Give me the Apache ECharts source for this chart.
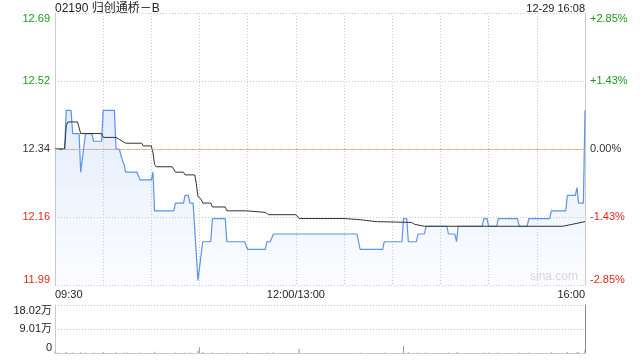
<!DOCTYPE html>
<html>
<head>
<meta charset="utf-8">
<script src="https://cdn.jsdelivr.net/npm/echarts@6/dist/echarts.min.js"></script>
<style>
html,body{margin:0;padding:0;background:#fff;}
#chart{width:640px;height:360px;}
</style>
</head>
<body>
<div id="chart"></div>
<script>
// ---- data ----
var stockTitle = '02190 归创通桥－B';
var stampText = '12-29 16:08';
var prevClose = 12.34;
// minute index from 09:30 (0) to 16:00 (330), lunch break removed
var priceMinutes = [0,6,7,10,11,15,16,17,19,23,24,29,30,37,38,40,42,43,44,51,53,60,61,62,74,75,80,81,83,84,86,89,90,92,97,98,106,107,118,120,131,132,134,136,188,190,204,205,216,217,219,220,225,226,230,231,244,245,249,250,251,266,267,269,270,275,276,288,289,294,295,308,309,318,319,324,325,326,329,330];
var priceValues  = [12.34,12.34,12.44,12.44,12.38,12.38,12.28,12.28,12.38,12.38,12.36,12.36,12.44,12.44,12.34,12.34,12.31,12.30,12.28,12.28,12.26,12.26,12.28,12.18,12.18,12.20,12.20,12.22,12.22,12.20,12.20,12.00,12.00,12.10,12.10,12.16,12.16,12.10,12.10,12.08,12.08,12.10,12.10,12.12,12.12,12.08,12.08,12.10,12.10,12.16,12.16,12.10,12.10,12.12,12.12,12.14,12.14,12.12,12.12,12.10,12.14,12.14,12.16,12.16,12.14,12.14,12.16,12.16,12.14,12.14,12.16,12.16,12.18,12.18,12.22,12.22,12.24,12.20,12.20,12.44];
var avgMinutes = [0,6,7,8,14,16,29,30,38,40,44,54,55,60,61,62,63,73,75,80,81,87,88,89,91,92,97,98,106,107,119,120,131,133,150,152,180,181,190,191,200,201,222,224,230,316,322,330];
var avgValues  = [12.34,12.34,12.40,12.41,12.41,12.38,12.38,12.37,12.37,12.365,12.355,12.355,12.348,12.348,12.33,12.30,12.294,12.294,12.28,12.28,12.273,12.273,12.25,12.217,12.21,12.20,12.20,12.19,12.19,12.18,12.18,12.176,12.176,12.17,12.17,12.16,12.16,12.157,12.157,12.152,12.152,12.15,12.15,12.145,12.14,12.14,12.145,12.152];
var volMinutes = [0,2,7,11,16,19,24,30,38,43,45,53,62,75,81,84,89,90,92,98,107,120,132,136,152,190,205,217,220,226,231,245,250,251,267,270,276,289,295,309,319,325,326,330];
var volValues  = [6000,1500,4000,2000,3000,2000,1500,3500,2500,2000,1500,2000,5000,2000,1500,1500,9000,22000,4000,3000,2000,2500,1500,3000,16000,2000,1500,26000,2500,1500,2000,1500,2000,2500,1500,1500,2000,1500,1500,3000,3500,3000,2500,12000];
var priceTickLabels = ['11.99','12.16','12.34','12.52','12.69'];
var pctTickLabels = ['-2.85%','-1.43%','0.00%','+1.43%','+2.85%'];
var volTickLabels = ['0','9.01万','18.02万'];
var timeTickMinutes = [0,150,330];
var timeTickLabels = ['09:30','12:00/13:00','16:00'];

var FONT = 'Arial, "Liberation Sans", "Noto Sans CJK SC", sans-serif';
var GREEN = '#1a9c1a', RED = '#e8251b', TXT = '#333';
function tickColor(i){ return i > 2 ? GREEN : (i === 2 ? TXT : RED); }

function pairs(a, b){ var r=[]; for (var i=0;i<a.length;i++) r.push([a[i], b[i]]); return r; }

var chart = echarts.init(document.getElementById('chart'), null, {renderer:'canvas'});
var option = {
  animation: false,
  textStyle: {fontFamily: FONT},
  title: [
    {text: stockTitle, left: 55, top: 3, padding: 0, textStyle: {fontSize: 12, fontWeight: 'normal', color: '#222', fontFamily: FONT}},
    {text: stampText, right: 55, top: 3, padding: 0, textStyle: {fontSize: 11, fontWeight: 'normal', color: '#222', fontFamily: FONT}}
  ],
  grid: [
    {left: 55, right: 55, top: 13, height: 272},
    {left: 55, right: 55, top: 305, height: 48}
  ],
  xAxis: [
    {type: 'value', gridIndex: 0, min: 0, max: 330, interval: 30,
     axisLine: {show: true, lineStyle: {color: '#ccc'}}, axisTick: {show: false},
     splitLine: {show: true, lineStyle: {color: '#ccc', type: [1,2]}},
     axisLabel: {color: '#222', fontSize: 11, margin: 4, alignMinLabel: 'left', alignMaxLabel: 'right',
       formatter: function(v){ var k = timeTickMinutes.indexOf(v); return k >= 0 ? timeTickLabels[k] : ''; }}},
    {type: 'value', gridIndex: 1, min: 0, max: 330, interval: 30,
     axisLine: {show: true, lineStyle: {color: '#ccc'}}, axisTick: {show: false},
     splitLine: {show: false}, axisLabel: {show: false}}
  ],
  yAxis: [
    {type: 'value', gridIndex: 0, min: 11.988, max: 12.692, interval: 0.176,
     axisLine: {show: true, lineStyle: {color: '#ccc'}}, axisTick: {show: false},
     splitLine: {show: true, lineStyle: {color: '#ccc', type: [1,2]}},
     axisLabel: {fontSize: 11, margin: 5, verticalAlignMinLabel: 'bottom', verticalAlignMaxLabel: 'top',
       color: function(v, i){ return tickColor(i); },
       formatter: function(v, i){ return priceTickLabels[i]; }}},
    {type: 'value', gridIndex: 0, position: 'right', min: -2.85, max: 2.85, interval: 1.425,
     axisLine: {show: true, lineStyle: {color: '#ccc'}}, axisTick: {show: false},
     splitLine: {show: false},
     axisLabel: {fontSize: 11, margin: 5, verticalAlignMinLabel: 'bottom', verticalAlignMaxLabel: 'top',
       color: function(v, i){ return tickColor(i); },
       formatter: function(v, i){ return pctTickLabels[i]; }}},
    {type: 'value', gridIndex: 1, min: 0, max: 180200, interval: 90100,
     axisLine: {show: true, lineStyle: {color: '#ccc'}}, axisTick: {show: false},
     splitLine: {show: true, lineStyle: {color: '#ccc', type: [1,2]}},
     axisLabel: {fontSize: 11, margin: 3, color: '#222', verticalAlignMaxLabel: 'top', verticalAlignMinLabel: 'bottom',
       formatter: function(v, i){ return volTickLabels[i]; }}},
    {type: 'value', gridIndex: 1, position: 'right', min: 0, max: 180200,
     axisLine: {show: true, lineStyle: {color: '#888'}}, axisTick: {show: false},
     splitLine: {show: false}, axisLabel: {show: false}}
  ],
  graphic: [
    {type: 'text', right: 62, top: 271, style: {text: 'sina.com', fill: '#d8d8d8', font: '12px ' + FONT}}
  ],
  series: [
    {type: 'line', name: 'price', xAxisIndex: 0, yAxisIndex: 0, data: pairs(priceMinutes, priceValues),
     symbol: 'none', lineStyle: {color: '#5b93ee', width: 1.2},
     areaStyle: {origin: 'start', color: new echarts.graphic.LinearGradient(0,0,0,1,[
       {offset: 0, color: 'rgba(91,147,238,0.24)'}, {offset: 1, color: 'rgba(91,147,238,0.03)'}])},
     markLine: {silent: true, symbol: 'none', label: {show: false},
       lineStyle: {color: '#f0a477', type: [4,4], width: 1}, data: [{yAxis: prevClose}]},
     z: 3},
    {type: 'line', name: 'avg', xAxisIndex: 0, yAxisIndex: 0, data: pairs(avgMinutes, avgValues),
     symbol: 'none', lineStyle: {color: '#333', width: 1}, z: 4},
    {type: 'bar', name: 'vol', xAxisIndex: 1, yAxisIndex: 2, data: pairs(volMinutes, volValues),
     barWidth: 1, itemStyle: {color: '#999'}}
  ]
};
chart.setOption(option);
</script>
</body>
</html>
